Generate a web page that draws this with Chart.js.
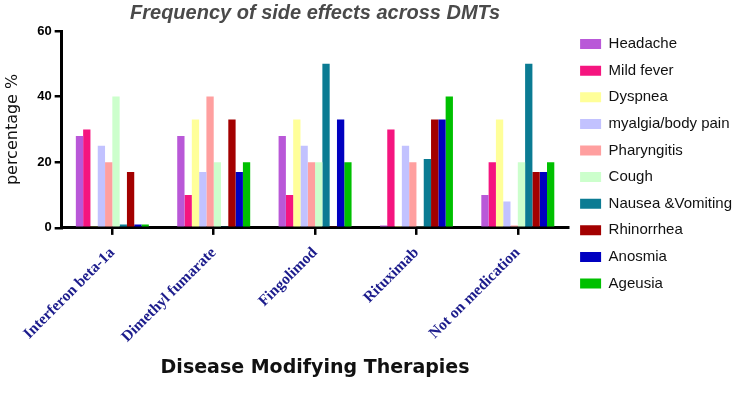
<!DOCTYPE html>
<html>
<head>
<meta charset="utf-8">
<script src="https://cdn.jsdelivr.net/npm/chart.js@4"></script>
<style>
  body { margin: 0; background: #fff; }
  #chart { display: block; }
</style>
</head>
<body>
<canvas id="chart" width="744" height="393"></canvas>
<script>
const chartTitle = "Frequency of side effects across DMTs";
const categories = ["Interferon beta-1a", "Dimethyl fumarate", "Fingolimod", "Rituximab", "Not on medication"];
const sideEffects = ["Headache", "Mild fever", "Dyspnea", "myalgia/body pain", "Pharyngitis", "Cough", "Nausea &Vomiting", "Rhinorrhea", "Anosmia", "Ageusia"];
const colors = ["#b958d8", "#f5157f", "#ffff99", "#c2c2ff", "#ff9f9f", "#ccffcc", "#0b7b93", "#a30000", "#0000c0", "#00c000"];

// percentage per therapy, one list per side effect
const headache    = [28, 28, 28, 0.7, 10];
const mildFever   = [30, 10, 10, 30, 20];
const dyspnea     = [0.5, 33, 33, 0.3, 33];
const myalgia     = [25, 17, 25, 25, 8];
const pharyngitis = [20, 40, 20, 20, 0.7];
const cough       = [40, 20, 20, 0.5, 20];
const nausea      = [1, 0.5, 50, 21, 50];
const rhinorrhea  = [17, 33, 0.5, 33, 17];
const anosmia     = [1, 17, 33, 33, 17];
const ageusia     = [1, 20, 20, 40, 20];
const yTicks = [0, 20, 40, 60];

const seriesValues = [headache, mildFever, dyspnea, myalgia, pharyngitis, cough, nausea, rhinorrhea, anosmia, ageusia];

const ctx = document.getElementById("chart").getContext("2d");
new Chart(ctx, {
    type: "bar",
    data: {
        labels: categories,
        datasets: sideEffects.map((name, i) => ({
            label: name,
            data: seriesValues[i],
            backgroundColor: colors[i],
            borderWidth: 0,
            barPercentage: 1,
            categoryPercentage: 0.72
        }))
    },
    options: {
        responsive: false,
        animation: false,
        layout: { padding: { top: 0, left: 1, right: 2, bottom: 14 } },
        plugins: {
            tooltip: { enabled: false },
            // title sits over the plot only, legend keeps the full height
            title: {
                display: true,
                fullSize: false,
                text: chartTitle,
                color: "#4a4a4a",
                font: { family: "Arial, 'Liberation Sans'", size: 20, weight: "bold", style: "italic" },
                padding: { top: 1, bottom: 6 }
            },
            legend: {
                position: "right",
                align: "start",
                title: { display: true, text: " ", font: { size: 13, lineHeight: 1 }, padding: { top: 12, bottom: 0 } },
                labels: {
                    boxWidth: 21,
                    boxHeight: 10,
                    padding: 11.6,
                    color: "#111",
                    font: { family: "Arial, 'Liberation Sans'", size: 15 }
                }
            }
        },
        scales: {
            x: {
                grid: { display: true, offset: false, drawOnChartArea: false, drawTicks: true, tickLength: 7, color: "#000", lineWidth: 2.5 },
                border: { display: true, color: "#000", width: 3 },
                ticks: {
                    autoSkip: false,
                    minRotation: 45,
                    maxRotation: 45,
                    padding: 9,
                    color: "#1c1c8c",
                    font: { family: "'Liberation Serif', 'Times New Roman', serif", size: 15.5, weight: "bold" }
                },
                title: {
                    display: true,
                    text: "Disease Modifying Therapies",
                    color: "#111",
                    font: { family: "'DejaVu Sans'", size: 19, weight: "bold" },
                    padding: { top: 1, bottom: 0 }
                }
            },
            y: {
                min: 0,
                max: 60,
                afterBuildTicks: (scale) => { scale.ticks = yTicks.map(v => ({ value: v })); },
                grid: { display: true, drawOnChartArea: false, drawTicks: true, tickLength: 7, color: "#000", lineWidth: 2.5 },
                border: { display: true, color: "#000", width: 3 },
                ticks: {
                    padding: 3,
                    color: "#000",
                    font: { family: "Arial, 'Liberation Sans'", size: 13, weight: "bold" }
                },
                title: {
                    display: true,
                    text: "percentage %",
                    color: "#111",
                    font: { family: "'DejaVu Sans'", size: 16 },
                    padding: { top: 2, bottom: 12 }
                }
            }
        }
    }
});
</script>
</body>
</html>
